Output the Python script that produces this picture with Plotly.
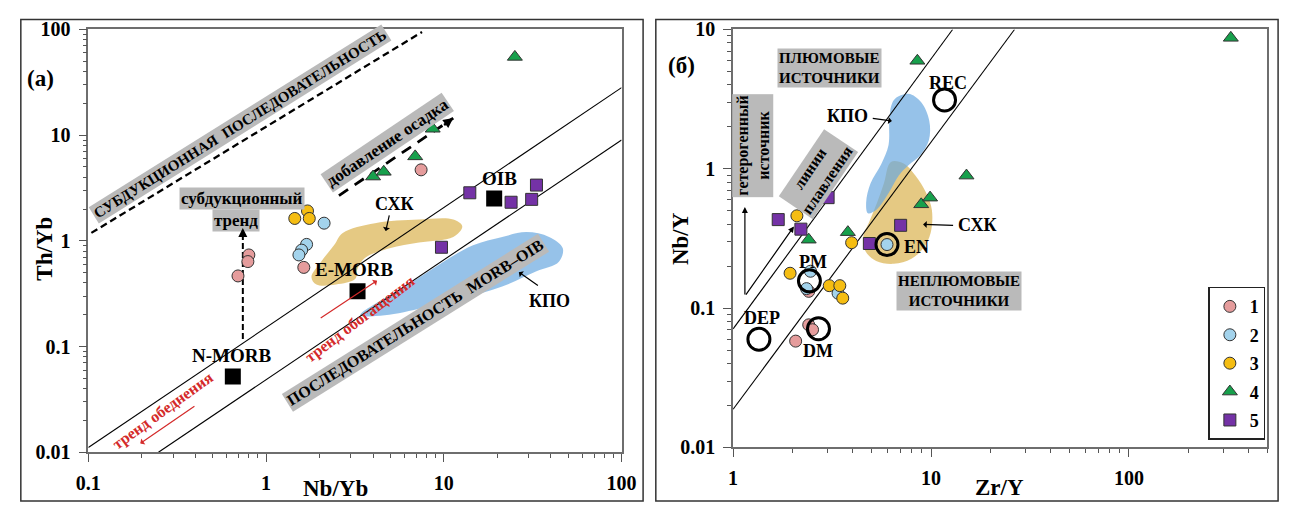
import numpy as np
import plotly.graph_objects as go

W, H = 1297, 514
FONT = "Liberation Serif"

# ---------------- data: panel (a) Nb/Yb vs Th/Yb ----------------
a_g1_x = [0.695, 0.80, 0.79, 1.63, 7.45]
a_g1_y = [0.466, 0.736, 0.637, 0.561, 4.70]
a_g2_x = [2.12, 1.69, 1.585, 1.53]
a_g2_y = [1.47, 0.926, 0.817, 0.736]
a_g3_x = [1.45, 1.71, 1.75]
a_g3_y = [1.63, 1.92, 1.63]
a_g4_x = [25.1, 8.66, 6.9, 4.0, 4.59]
a_g4_y = [55.0, 11.5, 6.3, 4.06, 4.5]
a_g5_x = [14.0, 23.9, 33.2, 31.2, 9.7]
a_g5_y = [2.85, 2.32, 3.37, 2.47, 0.87]
a_ref_names = ["N-MORB", "E-MORB", "OIB"]
a_ref_x = [0.65, 3.27, 19.2]
a_ref_y = [0.052, 0.333, 2.52]

# fields (a)
a_cxk_x = [2.70, 4.10, 7.25, 11.3, 12.7, 11.3, 7.25, 4.96, 3.61, 3.26, 3.18, 2.47, 1.92, 1.80, 2.04, 2.41]
a_cxk_y = [1.19, 1.47, 1.59, 1.59, 1.37, 1.09, 0.966, 0.852, 0.692, 0.538, 0.437, 0.386, 0.386, 0.456, 0.636, 0.907]
a_kpo_x = [3.39, 4.65, 6.81, 9.96, 14.6, 21.3, 29.2, 39.1, 46.7, 44.4, 33.2, 21.3, 12.8, 7.73, 4.65]
a_kpo_y = [0.198, 0.288, 0.42, 0.636, 0.907, 1.09, 1.21, 1.09, 0.852, 0.636, 0.516, 0.37, 0.288, 0.233, 0.198]

# reference lines (a)
a_arr_up_x = [0.1, 100]
a_arr_up_y = [0.0111, 28.2]
a_arr_lo_x = [0.248, 100]
a_arr_lo_y = [0.01, 9.0]
a_subd_x = [0.104, 7.54]
a_subd_y = [1.19, 94.6]
a_sed_x = [2.57, 11.3]
a_sed_y = [2.68, 14.5]
a_vert_x = [0.74, 0.74]
a_vert_y = [0.118, 1.32]

# ---------------- data: panel (б) Zr/Y vs Nb/Y ----------------
b_g1_x = [2.41, 2.41, 2.52, 2.07]
b_g1_y = [0.132, 0.0759, 0.070, 0.058]
b_g2_x = [2.46, 2.35, 3.39, 5.99]
b_g2_y = [0.184, 0.138, 0.128, 0.286]
b_g3_x = [2.10, 3.97, 1.94, 3.06, 3.46, 3.58]
b_g3_y = [0.46, 0.295, 0.178, 0.145, 0.145, 0.118]
b_g4_x = [2.41, 3.80, 8.92, 9.89, 15.1, 8.53, 327]
b_g4_y = [0.310, 0.351, 0.556, 0.621, 0.894, 5.96, 8.71]
b_g5_x = [1.69, 2.20, 3.02, 4.88, 7.02]
b_g5_y = [0.432, 0.369, 0.621, 0.291, 0.393]
b_ref_names = ["PM", "DM", "DEP", "EN", "REC"]
b_ref_x = [2.43, 2.70, 1.35, 5.99, 11.7]
b_ref_y = [0.157, 0.0711, 0.0598, 0.286, 3.12]

b_kpo_x = [6.60, 7.69, 8.92, 9.80, 9.75, 8.83, 7.69, 6.87, 6.12, 5.28, 4.80, 4.70, 4.95, 5.60, 6.10, 6.15, 6.30]
b_kpo_y = [3.20, 3.45, 3.00, 2.20, 1.60, 1.25, 1.06, 0.894, 0.673, 0.506, 0.480, 0.574, 0.787, 1.08, 1.48, 2.20, 2.85]
b_cxk_x = [6.27, 7.27, 8.33, 9.44, 10.1, 9.95, 9.13, 7.96, 6.48, 5.28, 4.65, 4.55, 4.88, 5.34, 5.78]
b_cxk_y = [1.12, 1.09, 0.894, 0.673, 0.506, 0.346, 0.269, 0.226, 0.208, 0.218, 0.258, 0.330, 0.419, 0.574, 0.787]

b_melt_up_x = [1, 12.85]
b_melt_up_y = [0.071, 10]
b_melt_lo_x = [1, 26.4]
b_melt_lo_y = [0.0188, 10]

legend_names = ["1", "2", "3", "4", "5"]

# ---------------- styles ----------------
C1, C2, C3, C4, C5 = "#e59c9c", "#a3d3ec", "#f5bd12", "#17a04c", "#7432a6"
TAN = "rgba(222,188,100,0.80)"
BLUE = "rgba(105,168,224,0.70)"
GREYBOX = "#bababa"
RED = "#d42a2a"

fig = go.Figure()


def poly(x, y, color, xa, ya):
    fig.add_trace(go.Scatter(x=x + [x[0]], y=y + [y[0]], mode="lines", fill="toself",
                             fillcolor=color, line=dict(width=0, shape="spline", smoothing=1.0),
                             hoverinfo="skip", showlegend=False, xaxis=xa, yaxis=ya))


def line(x, y, xa, ya, width=1.1, dash="solid", color="black"):
    fig.add_trace(go.Scatter(x=x, y=y, mode="lines", line=dict(color=color, width=width, dash=dash),
                             hoverinfo="skip", showlegend=False, xaxis=xa, yaxis=ya))


def pts(x, y, sym, col, size, xa, ya, name, legend):
    fig.add_trace(go.Scatter(x=x, y=y, mode="markers", name=name, legendgroup=name,
                             showlegend=legend,
                             marker=dict(symbol=sym, color=col, size=size,
                                         line=dict(color="#333333", width=1)),
                             xaxis=xa, yaxis=ya))


# panel (a)
poly(a_cxk_x, a_cxk_y, TAN, "x", "y")
poly(a_kpo_x, a_kpo_y, BLUE, "x", "y")
line(a_arr_up_x, a_arr_up_y, "x", "y")
line(a_arr_lo_x, a_arr_lo_y, "x", "y")
line(a_subd_x, a_subd_y, "x", "y", width=2.3, dash="7px,4px")
line(a_sed_x, a_sed_y, "x", "y", width=2.8, dash="11px,8px")
line(a_vert_x, a_vert_y, "x", "y", width=2.0, dash="6px,3px")
pts(a_g1_x, a_g1_y, "circle", C1, 12, "x", "y", "1", False)
pts(a_g2_x, a_g2_y, "circle", C2, 12, "x", "y", "2", False)
pts(a_g3_x, a_g3_y, "circle", C3, 12, "x", "y", "3", False)
pts(a_g4_x, a_g4_y, "triangle-up", C4, 13, "x", "y", "4", False)
pts(a_g5_x, a_g5_y, "square", C5, 12, "x", "y", "5", False)
fig.add_trace(go.Scatter(x=a_ref_x, y=a_ref_y, mode="markers", showlegend=False,
                         marker=dict(symbol="square", color="black", size=16),
                         xaxis="x", yaxis="y"))

# panel (б)
poly(b_cxk_x, b_cxk_y, TAN, "x2", "y2")
poly(b_kpo_x, b_kpo_y, BLUE, "x2", "y2")
line(b_melt_up_x, b_melt_up_y, "x2", "y2")
line(b_melt_lo_x, b_melt_lo_y, "x2", "y2")
pts(b_g1_x, b_g1_y, "circle", C1, 12, "x2", "y2", "1", True)
pts(b_g2_x, b_g2_y, "circle", C2, 12, "x2", "y2", "2", True)
pts(b_g3_x, b_g3_y, "circle", C3, 12, "x2", "y2", "3", True)
pts(b_g4_x, b_g4_y, "triangle-up", C4, 13, "x2", "y2", "4", True)
pts(b_g5_x, b_g5_y, "square", C5, 12, "x2", "y2", "5", True)
fig.add_trace(go.Scatter(x=b_ref_x, y=b_ref_y, mode="markers", showlegend=False,
                         marker=dict(symbol="circle-open", color="black", size=22,
                                     line=dict(width=3, color="black")),
                         xaxis="x2", yaxis="y2"))

# ---------------- annotations ----------------
ann = []


def lab(text, lx, ly, ref, size=18, color="black", angle=0, bg=None, pad=1):
    d = dict(x=lx, y=ly, xref=ref[0], yref=ref[1], text="<b>" + text + "</b>", showarrow=False,
             xanchor="center", yanchor="middle",
             textangle=angle, font=dict(family=FONT, size=size, color=color),
             borderpad=pad)
    if bg:
        d["bgcolor"] = bg
    ann.append(d)


def arrow(hx, hy, tx, ty, ref, color="black", width=1.2, head=2, size=1.0):
    ann.append(dict(x=hx, y=hy, ax=tx, ay=ty, xref=ref[0], yref=ref[1],
                    axref=ref[0], ayref=ref[1], text="", showarrow=True,
                    arrowhead=head, arrowsize=size, arrowwidth=width, arrowcolor=color,
                    standoff=0, startstandoff=0))


A = ("x", "y")
B = ("x2", "y2")
L = np.log10

# labels of reference compositions (a)
lab("N-MORB", -0.196, -1.083, A, size=19)
lab("E-MORB", 0.492, -0.269, A, size=19)
lab("OIB", 1.312, 0.591, A, size=19)
lab("СХК", 0.723, 0.347, A)
arrow(0.673, 0.093, 0.695, 0.256, A, head=1)
lab("КПО", 1.593, -0.567, A)
arrow(1.422, -0.296, 1.5376, -0.432, A, head=1)
# grey-box texts (a)
lab("СУБДУКЦИОННАЯ  ПОСЛЕДОВАТЕЛЬНОСТЬ", -0.147, 1.107, A, size=15, angle=-32, bg=GREYBOX)
lab("субдукционный", -0.136, 0.401, A, size=17, bg=GREYBOX)
lab("тренд", -0.169, 0.193, A, size=17, bg=GREYBOX)
lab("добавление осадка", 0.684, 0.926, A, size=17, angle=-34, bg=GREYBOX)
lab("ПОСЛЕДОВАТЕЛЬНОСТЬ  MORB–OIB", 0.8385, -0.776, A, size=16, angle=-32, bg=GREYBOX)
# red trend texts and arrows
lab("тренд обеднения", -0.582, -1.608, A, size=16, color=RED, angle=-36)
arrow(L(0.196), L(0.0121), L(0.403), L(0.0279), A, color=RED, head=1)
lab("тренд обогащения", 0.530, -0.739, A, size=16, color=RED, angle=-37)
arrow(L(4.21), L(0.42), L(1.99), L(0.182), A, color=RED, head=1)
# arrowheads of dashed lines
arrow(L(a_sed_x[1]), L(a_sed_y[1]), L(a_sed_x[1]) - 0.06, L(a_sed_y[1]) - 0.06 * 1.26, A,
      width=2.5, head=2, size=0.8)
arrow(L(a_vert_x[1]), L(a_vert_y[1]), L(a_vert_x[1]), L(a_vert_y[1]) - 0.08, A,
      width=2.0, head=2, size=0.9)

# panel (б) labels
for nm, px, py in zip(b_ref_names, [0.406, 0.431, 0.1436, 0.926, 1.084],
                      [-0.667, -1.306, -1.072, -0.564, 0.617]):
    lab(nm, px, py, B, size=18)
lab("ПЛЮМОВЫЕ<br>ИСТОЧНИКИ", 0.485, 0.727, B, size=15, bg=GREYBOX)
lab("НЕПЛЮМОВЫЕ<br>ИСТОЧНИКИ", 1.1436, -0.880, B, size=15, bg=GREYBOX)
lab("гетерогенный<br>источник", 0.099, 0.164, B, size=16, angle=-90, bg=GREYBOX)
lab("линии<br>плавления", 0.431, -0.035, B, size=16, angle=-56, bg=GREYBOX)
lab("КПО", 0.579, 0.377, B)
arrow(0.802, 0.343, 0.698, 0.363, B, head=1)
lab("СХК", 1.233, -0.406, B)
arrow(0.960, -0.399, 1.119, -0.406, B, head=1)
arrow(L(1.147), L(0.531), L(1.147), L(0.122), B, head=2, width=1.2)
arrow(L(2.03), L(0.386), L(1.147), L(0.122), B, head=2, width=1.2)


def ptext(text, px, py, size=23, angle=0):
    ann.append(dict(x=px / W, y=1 - py / H, xref="paper", yref="paper", text="<b>" + text + "</b>",
                    showarrow=False, textangle=angle, xanchor="center", yanchor="middle",
                    font=dict(family=FONT, size=size, color="black")))


ptext("Th/Yb", 32, 248, angle=-90)
ptext("Nb/Yb", 330, 499)
ptext("Nb/Y", 683, 238, angle=-90)
ptext("Zr/Y", 1008, 498)
ptext("(а)", 28, 70, size=23)
ptext("(б)", 683, 57, size=23)

# ---------------- axes ----------------
TICKFONT = dict(family=FONT, size=20, color="black", weight="bold")


def minor_vals(e0, e1):
    return [m * 10.0 ** e for e in range(e0, e1) for m in range(2, 10)]


def axis(dom, rng, anchor, e0, e1):
    return dict(type="log", domain=dom, range=rng, anchor=anchor, showgrid=False,
                zeroline=False, showline=True, mirror=True, linecolor="#6e6e6e", linewidth=1.6,
                ticks="outside", ticklen=8, tickwidth=1.3, tickcolor="#555",
                tickmode="array", tickvals=[10.0 ** e for e in range(e0, e1 + 1)],
                ticktext=[("<b>%g</b>" % (10.0 ** e)) for e in range(e0, e1 + 1)],
                tickfont=TICKFONT, ticklabelstandoff=4,
                minor=dict(ticks="outside", ticklen=4, tickwidth=1, tickcolor="#555",
                           tickmode="array", tickvals=minor_vals(e0, e1), showgrid=False))


xa = axis([77 / W, 622 / W], [-1, 2], "y", -1, 2)
ya = axis([1 - 461 / H, 1 - 19.3 / H], [-2, 2], "x", -2, 2)
xb = axis([736 / W, 1282 / W], [0, np.log10(500)], "y2", 0, 2)
xb["minor"]["tickvals"] = [v for v in minor_vals(0, 3) if v <= 500]
yb = axis([1 - 456 / H, 1 - 19.3 / H], [-2, 1], "x2", -2, 1)

shapes = []
for x0, x1 in [(8, 644), (657, 1293)]:
    shapes.append(dict(type="rect", xref="paper", yref="paper", x0=x0 / W, x1=x1 / W,
                       y0=1 - 512 / H, y1=1 - 9 / H, line=dict(color="#333", width=1.5)))

fig.update_layout(
    width=W, height=H, margin=dict(l=0, r=0, t=0, b=0),
    paper_bgcolor="white", plot_bgcolor="white",
    xaxis=xa, yaxis=ya, xaxis2=xb, yaxis2=yb,
    annotations=ann, shapes=shapes,
    showlegend=True,
    legend=dict(x=1280 / W, y=1 - 288 / H, xanchor="right", yanchor="top",
                bgcolor="white", bordercolor="#222", borderwidth=1.5,
                font=dict(family=FONT, size=18, color="black", weight="bold"),
                traceorder="grouped", tracegroupgap=2, itemwidth=30),
    font=dict(family=FONT),
)

fig.write_html("out.html")
